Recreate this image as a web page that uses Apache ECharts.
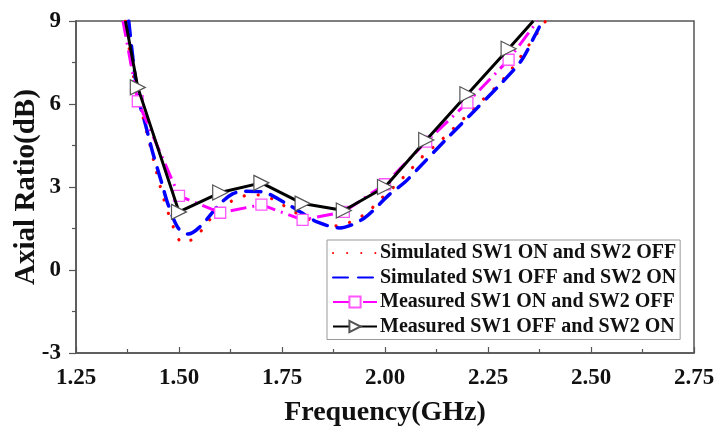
<!DOCTYPE html>
<html>
<head>
<meta charset="utf-8">
<script src="https://cdn.jsdelivr.net/npm/echarts@6/dist/echarts.min.js"></script>
<style>
  html, body { margin: 0; padding: 0; background: #fff; }
  #chart { width: 720px; height: 426px; }
</style>
</head>
<body>
<div id="chart"></div>
<script>
// Axial ratio vs frequency for the two switch states
const seriesNames = [
  'Simulated SW1 ON and SW2 OFF',
  'Simulated SW1 OFF and SW2 ON',
  'Measured SW1 ON and SW2 OFF',
  'Measured SW1 OFF and SW2 ON'
];

// Simulated, SW1 ON / SW2 OFF
const simOnFreq = [1.37, 1.386, 1.40, 1.427, 1.444, 1.463, 1.488, 1.508, 1.525, 1.544, 1.57, 1.604, 1.638, 1.675, 1.709, 1.743, 1.78, 1.82, 1.85, 1.886, 1.922, 1.956, 1.99, 2.024, 2.06, 2.093, 2.13, 2.165, 2.20, 2.235, 2.27, 2.301, 2.352, 2.39];
const simOnAR   = [9.0, 7.3, 6.3, 4.67, 3.62, 2.57, 1.49, 0.98, 1.05, 1.23, 1.74, 2.25, 2.57, 2.72, 2.68, 2.43, 2.1, 1.8, 1.67, 1.59, 1.78, 2.07, 2.57, 3.04, 3.59, 4.13, 4.6, 5.1, 5.6, 6.12, 6.63, 7.14, 8.19, 9.0];

// Simulated, SW1 OFF / SW2 ON
const simOffFreq = [1.378, 1.40, 1.418, 1.437, 1.458, 1.473, 1.498, 1.522, 1.55, 1.60, 1.63, 1.66, 1.70, 1.757, 1.80, 1.835, 1.89, 1.95, 2.007, 2.05, 2.08, 2.145, 2.21, 2.27, 2.33, 2.364, 2.382];
const simOffAR   = [9.0, 6.3, 5.29, 4.2, 3.15, 2.39, 1.52, 1.3, 1.55, 2.4, 2.75, 2.85, 2.83, 2.43, 2.05, 1.74, 1.52, 1.88, 2.68, 3.2, 3.66, 4.67, 5.65, 6.56, 7.55, 8.48, 9.0];

// Measured, SW1 ON / SW2 OFF
const measOnFreq = [1.364, 1.40, 1.50, 1.60, 1.70, 1.80, 1.90, 2.00, 2.10, 2.20, 2.30, 2.37];
const measOnAR   = [9.0, 6.1, 2.68, 2.07, 2.36, 1.81, 2.1, 3.1, 4.64, 6.05, 7.6, 9.0];

// Measured, SW1 OFF / SW2 ON
const measOffFreq = [1.37, 1.40, 1.50, 1.60, 1.70, 1.80, 1.90, 2.00, 2.10, 2.20, 2.30, 2.36];
const measOffAR   = [9.0, 6.6, 2.1, 2.8, 3.15, 2.4, 2.15, 3.0, 4.7, 6.35, 8.0, 9.0];

const serif = '"Liberation Serif", "Times New Roman", serif';

// pair up x/y arrays; points at the frame edge carry no marker
function pairs(xs, ys, hideEnds) {
  return xs.map((x, i) => {
    const item = { value: [x, ys[i]] };
    if (hideEnds && (i === 0 || i === xs.length - 1)) item.symbol = 'none';
    return item;
  });
}

const chart = echarts.init(document.getElementById('chart'), null, { renderer: 'canvas' });

chart.setOption({
  animation: false,
  backgroundColor: '#fff',
  grid: {
    left: 76, right: 26, top: 21, bottom: 73,
    outerBoundsMode: 'none',
    show: true, borderColor: '#555', borderWidth: 1.5, backgroundColor: 'transparent'
  },
  legend: {
    orient: 'vertical',
    left: 327, top: 240,
    padding: [3, 4, 3, 5],
    itemWidth: 44, itemHeight: 14, itemGap: 4.5,
    backgroundColor: '#fff',
    borderColor: '#999', borderWidth: 1, borderRadius: 0,
    textStyle: { fontFamily: serif, fontWeight: 'bold', fontSize: 20, lineHeight: 20, color: '#111', padding: [0, 0, 0, -2] },
    data: seriesNames
  },
  xAxis: {
    type: 'value', min: 1.25, max: 2.75, interval: 0.25,
    name: 'Frequency(GHz)', nameLocation: 'middle', nameGap: 46, nameMoveOverlap: false,
    nameTextStyle: { fontFamily: serif, fontWeight: 'bold', fontSize: 28, color: '#111' },
    axisLine: { show: true, onZero: false, lineStyle: { color: '#555', width: 1.5 } },
    axisTick: { show: true, inside: true, length: 6, lineStyle: { color: '#555', width: 1.2 } },
    minorTick: { show: true, splitNumber: 2, length: 4, lineStyle: { color: '#555', width: 1.2 } },
    splitLine: { show: false },
    axisLabel: {
      fontFamily: serif, fontWeight: 'bold', fontSize: 23, color: '#111', margin: 14,
      formatter: v => v.toFixed(2)
    }
  },
  yAxis: {
    type: 'value', min: -3, max: 9, interval: 3,
    name: 'Axial Ratio(dB)', nameLocation: 'middle', nameGap: 35, nameRotate: 90, nameMoveOverlap: false,
    nameTextStyle: { fontFamily: serif, fontWeight: 'bold', fontSize: 29, color: '#111' },
    axisLine: { show: true, onZero: false, lineStyle: { color: '#555', width: 1.5 } },
    axisTick: { show: true, inside: false, length: 7, lineStyle: { color: '#555', width: 1.2 } },
    minorTick: { show: true, splitNumber: 2, length: 4, lineStyle: { color: '#555', width: 1.2 } },
    splitLine: { show: false },
    axisLabel: { fontFamily: serif, fontWeight: 'bold', fontSize: 23, color: '#111', margin: 15 }
  },
  series: [
    {
      name: seriesNames[0], type: 'line', smooth: 0.3, clip: true,
      symbol: 'none',
      lineStyle: { color: '#ff0000', width: 3.2, type: [0.1, 14], cap: 'round' },
      itemStyle: { color: '#ff0000', opacity: 0 },
      data: pairs(simOnFreq, simOnAR, false), z: 2
    },
    {
      name: seriesNames[1], type: 'line', smooth: 0.3, clip: true,
      symbol: 'none',
      lineStyle: { color: '#0000ff', width: 3.5, type: [15, 10], cap: 'round' },
      itemStyle: { color: '#0000ff', opacity: 0 },
      data: pairs(simOffFreq, simOffAR, false), z: 3
    },
    {
      name: seriesNames[2], type: 'line', smooth: false, clip: true,
      symbol: 'rect', symbolSize: 11, showAllSymbol: true,
      lineStyle: { color: '#ff00ff', width: 3, type: [16, 6, 2, 6] },
      itemStyle: { color: '#fff', borderColor: '#ff55ff', borderWidth: 1.3 },
      data: pairs(measOnFreq, measOnAR, true), z: 4
    },
    {
      name: seriesNames[3], type: 'line', smooth: false, clip: true,
      symbol: 'path://M0,0L12,6L0,12Z', symbolSize: [15, 15], showAllSymbol: true,
      lineStyle: { color: '#000', width: 3 },
      itemStyle: { color: '#fff', borderColor: '#555', borderWidth: 1.2 },
      data: pairs(measOffFreq, measOffAR, true), z: 5
    }
  ]
});
</script>
</body>
</html>
